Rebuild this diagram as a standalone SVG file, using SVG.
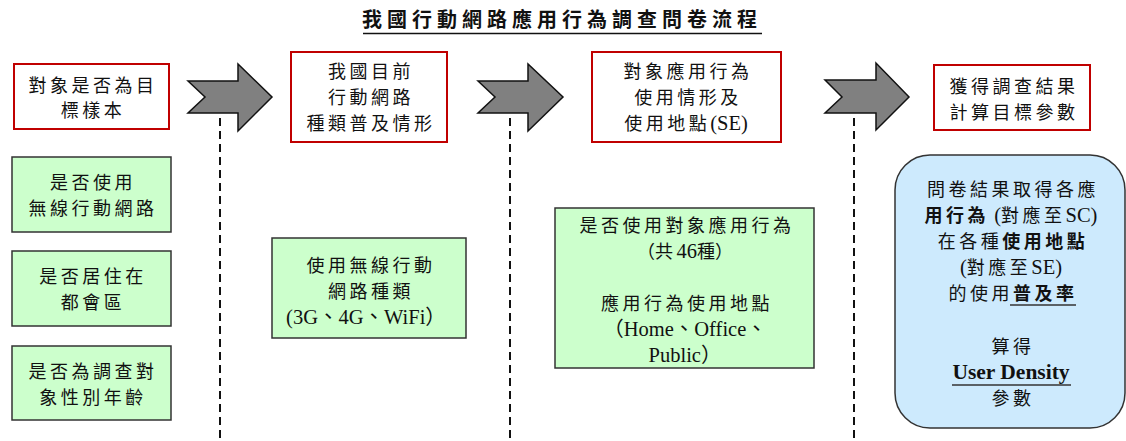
<svg xmlns="http://www.w3.org/2000/svg" width="1126" height="441" viewBox="0 0 1126 441">
<style>
.t{font-family:"Liberation Serif","Noto Sans CJK TC",serif;font-size:18px;fill:#111;text-anchor:middle}
.c{letter-spacing:3.5px}
.L{font-size:20.5px}
.b{font-weight:bold}
.red{fill:#fff;stroke:#c00000;stroke-width:2}
.grn{fill:#ccffcc;stroke:#333;stroke-width:1.5}
.blu{fill:#cdeafd;stroke:#333;stroke-width:1.5}
.arr{fill:#808080;stroke:#111;stroke-width:1.5;stroke-linejoin:miter}
.dash{stroke:#111;stroke-width:2;stroke-dasharray:8,5;fill:none}
.ul{stroke:#333;stroke-width:1.5}
</style>
<rect width="1126" height="441" fill="#fff"/>
<g id="title">
<text class="t b" x="562" y="27" style="font-size:20px;letter-spacing:5px">我國行動網路應用行為調查問卷流程</text>
<line x1="363" y1="33.5" x2="762" y2="33.5" stroke="#111" stroke-width="1.5"/>
</g>
<g id="connectors">
<polygon class="arr" points="188,81 205,97 188,113 238,113 238,131 272,97 238,64 238,81"/>
<polygon class="arr" points="478,81 495,97 478,113 528,113 528,131 563,97 528,64 528,81"/>
<polygon class="arr" points="825,80 842,97 825,113 876,113 876,130 909,97 876,63 876,80"/>
<line class="dash" x1="220" y1="118" x2="220" y2="441"/>
<line class="dash" x1="510" y1="118" x2="510" y2="441"/>
<line class="dash" x1="854" y1="118" x2="854" y2="441"/>
</g>
<g id="step1">
<rect class="red" x="14" y="64" width="155" height="65"/>
<text class="t c" x="93" y="92">對象是否為目</text>
<text class="t c" x="93" y="117">標樣本</text>
</g>
<g id="step2">
<rect class="red" x="291" y="52" width="156" height="90"/>
<text class="t c" x="371" y="78">我國目前</text>
<text class="t c" x="371" y="104">行動網路</text>
<text class="t c" x="371" y="130">種類普及情形</text>
</g>
<g id="step3">
<rect class="red" x="592" y="52" width="189" height="90"/>
<text class="t c" x="688" y="78">對象應用行為</text>
<text class="t c" x="688" y="104">使用情形及</text>
<text class="t" x="686" y="130"><tspan class="c">使用地點</tspan><tspan class="L">(SE)</tspan></text>
</g>
<g id="step4">
<rect class="red" x="934" y="65" width="156" height="65"/>
<text class="t c" x="1014" y="93">獲得調查結果</text>
<text class="t c" x="1014" y="119">計算目標參數</text>
</g>
<g id="cond1">
<rect class="grn" x="12" y="157" width="159" height="75"/>
<text class="t c" x="93" y="189">是否使用</text>
<text class="t c" x="93" y="215">無線行動網路</text>
</g>
<g id="cond2">
<rect class="grn" x="12" y="251" width="159" height="75"/>
<text class="t c" x="93" y="283">是否居住在</text>
<text class="t c" x="93" y="309">都會區</text>
</g>
<g id="cond3">
<rect class="grn" x="12" y="346" width="159" height="74"/>
<text class="t c" x="93" y="378">是否為調查對</text>
<text class="t c" x="93" y="404">象性別年齡</text>
</g>
<g id="nettype">
<rect class="grn" x="272" y="238" width="194" height="100"/>
<text class="t c" x="371" y="272">使用無線行動</text>
<text class="t c" x="371" y="298">網路種類</text>
<text class="t L" x="366" y="324">(3G、4G、WiFi）</text>
</g>
<g id="apps">
<rect class="grn" x="555" y="208" width="259" height="160"/>
<text class="t c" x="687" y="232">是否使用對象應用行為</text>
<text class="t" x="685" y="258">（<tspan class="c">共</tspan><tspan class="L">46</tspan>種）</text>
<text class="t c" x="687" y="310">應用行為使用地點</text>
<text class="t L" x="685" y="336">（Home、Office、</text>
<text class="t L" x="685" y="362">Public）</text>
</g>
<g id="result">
<rect class="blu" x="895" y="155" width="230" height="273" rx="35" ry="35"/>
<text class="t c" x="1013" y="196">問卷結果取得各應</text>
<text class="t" x="1011" y="222"><tspan class="c b">用行為</tspan><tspan class="L"> (</tspan><tspan class="c">對應至</tspan><tspan class="L">SC)</tspan></text>
<text class="t" x="1013" y="248"><tspan class="c">在各種</tspan><tspan class="c b">使用地點</tspan></text>
<text class="t" x="1011" y="274"><tspan class="L">(</tspan><tspan class="c">對應至</tspan><tspan class="L">SE)</tspan></text>
<text class="t" x="1013" y="300"><tspan class="c">的使用</tspan><tspan class="c b">普及率</tspan></text>
<line class="ul" x1="1010" y1="305" x2="1076" y2="305"/>
<text class="t c" x="1013" y="353">算得</text>
<text class="t b" x="1011" y="379" style="font-size:21.5px">User Density</text>
<line class="ul" x1="952" y1="385" x2="1071" y2="385"/>
<text class="t c" x="1013" y="405">參數</text>
</g>
</svg>
